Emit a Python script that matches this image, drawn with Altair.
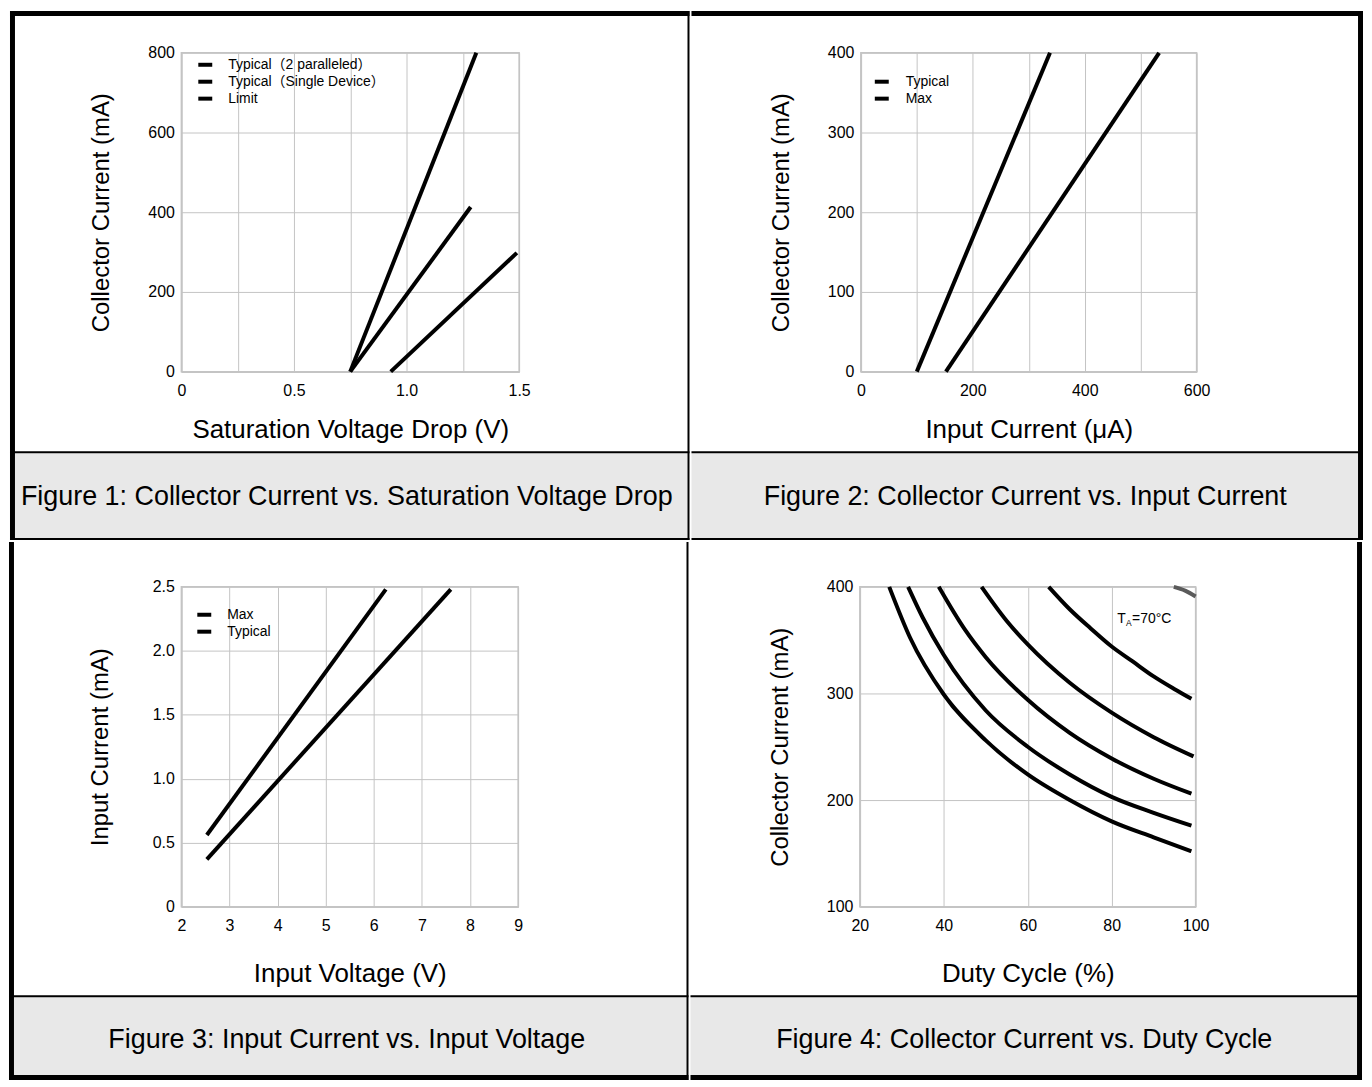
import altair as alt
import pandas as pd

FONT = "Liberation Sans, Arial, Noto Sans CJK SC, sans-serif"
CAPTION_SIZE = 27
BAND = "#e8e8e8"
GRID = "#c4c4c4"

# ---------------- Figure 1 ----------------
f1_series = ["Typical（2 paralleled）", "Typical（Single Device）", "Limit"]
f1_typ2_v = [0.75, 1.31]
f1_typ2_i = [0, 800]
f1_typ1_v = [0.75, 1.285]
f1_typ1_i = [0, 413]
f1_lim_v = [0.93, 1.49]
f1_lim_i = [0, 298]
f1_x_ticks = [0, 0.25, 0.5, 0.75, 1.0, 1.25, 1.5]
f1_x_labels = ["0", "", "0.5", "", "1.0", "", "1.5"]
f1_y_ticks = [0, 200, 400, 600, 800]
f1_y_labels = ["0", "200", "400", "600", "800"]

# ---------------- Figure 2 ----------------
f2_series = ["Typical", "\u00a0Max"]
f2_typ_in = [100, 338]
f2_typ_ic = [0, 400]
f2_max_in = [152, 533]
f2_max_ic = [0, 400]
f2_x_ticks = [0, 100, 200, 300, 400, 500, 600]
f2_x_labels = ["0", "", "200", "", "400", "", "600"]
f2_y_ticks = [0, 100, 200, 300, 400]
f2_y_labels = ["0", "100", "200", "300", "400"]

# ---------------- Figure 3 ----------------
f3_series = ["Max", "Typical"]
f3_max_v = [2.53, 6.25]
f3_max_i = [0.56, 2.48]
f3_typ_v = [2.53, 7.6]
f3_typ_i = [0.37, 2.48]
f3_x_ticks = [2, 3, 4, 5, 6, 7, 8, 9]
f3_x_labels = ["2", "3", "4", "5", "6", "7", "8", "9"]
f3_y_ticks = [0, 0.5, 1.0, 1.5, 2.0, 2.5]
f3_y_labels = ["0", "0.5", "1.0", "1.5", "2.0", "2.5"]

# ---------------- Figure 4 ----------------
f4_series = ["c1", "c2", "c3", "c4", "c5", "edge"]
f4_c1_d = [27, 32, 40, 50, 60, 70, 80, 90, 99]
f4_c1_i = [400, 352, 299, 256, 224, 200, 180, 165, 152]
f4_c2_d = [31.5, 35, 40, 50, 60, 70, 80, 90, 99]
f4_c2_i = [400, 371, 336, 284, 250, 224, 203, 188, 176]
f4_c3_d = [38.8, 45, 50, 60, 70, 80, 90, 99]
f4_c3_i = [400, 360, 334, 294, 263, 239, 220, 206]
f4_c4_d = [49, 55, 60, 70, 80, 90, 99.5]
f4_c4_i = [400, 368, 346, 310, 282, 259, 241]
f4_c5_d = [65, 70, 75, 80, 85, 90, 95, 99]
f4_c5_i = [400, 379, 361, 344, 330, 316, 304, 295]
f4_edge_d = [94.8, 97.5, 100]
f4_edge_i = [400, 396.5, 391]
f4_x_ticks = [20, 40, 60, 80, 100]
f4_x_labels = ["20", "40", "60", "80", "100"]
f4_y_ticks = [100, 200, 300, 400]
f4_y_labels = ["100", "200", "300", "400"]
f4_note_x = [81.3]
f4_note_y = [370]

captions = [
    "Figure 1: Collector Current vs. Saturation Voltage Drop",
    "Figure 2: Collector Current vs. Input Current",
    "Figure 3: Input Current vs. Input Voltage",
    "Figure 4: Collector Current vs. Duty Cycle",
]

DUMMY = pd.DataFrame({"d": [0]})


def frame(names, xs_list, ys_list):
    rows = []
    for name, xs, ys in zip(names, xs_list, ys_list):
        for i, (x, y) in enumerate(zip(xs, ys)):
            rows.append({"series": name, "x": x, "y": y, "i": i})
    return pd.DataFrame(rows)


def label_expr(values, labels):
    parts = [f"abs(datum.value - ({v})) < 1e-9 ? '{l}'" for v, l in zip(values, labels)]
    return " : ".join(parts) + " : ''"


def rect(x1, x2, y1, y2, color):
    return alt.Chart(DUMMY).mark_rect(color=color, strokeWidth=0).encode(
        x=alt.value(x1), x2=alt.value(x2), y=alt.value(y1), y2=alt.value(y2)
    )


def caption(text, cx, cy):
    return alt.Chart(DUMMY).mark_text(
        text=text, font=FONT, fontSize=CAPTION_SIZE, color="black",
        align="center", baseline="middle"
    ).encode(x=alt.value(cx), y=alt.value(cy))


def panel(df, series, colors, xdom, ydom, xt, xl, yt, yl, xtitle, ytitle,
          w, h, title_y, title_x, decor, cap_text, cap_xy, legend=None, extra=(),
          interp="linear"):
    if legend is None:
        leg = None
    else:
        lx, ly, lo = legend
        leg = alt.Legend(
            orient="none", legendX=lx, legendY=ly, title=None,
            symbolType="stroke", symbolSize=196, symbolStrokeWidth=4,
            labelFont=FONT, labelFontSize=14, labelColor="black",
            labelLimit=400, labelOffset=lo, rowPadding=0, padding=0,
        )
    lines = alt.Chart(df).mark_line(strokeWidth=4, interpolate=interp).encode(
        x=alt.X("x:Q", scale=alt.Scale(domain=xdom, nice=False, zero=False),
                axis=alt.Axis(values=xt, labelExpr=label_expr(xt, xl), title=xtitle,
                              titleY=title_y, titleBaseline="middle")),
        y=alt.Y("y:Q", scale=alt.Scale(domain=ydom, nice=False, zero=False),
                axis=alt.Axis(values=yt, labelExpr=label_expr(yt, yl), title=ytitle,
                              titleX=title_x, titleBaseline="middle")),
        color=alt.Color("series:N", scale=alt.Scale(domain=series, range=colors), legend=leg),
        order=alt.Order("i:Q"),
    )
    layers = [rect(*d) for d in decor] + [lines, caption(cap_text, *cap_xy)] + list(extra)
    return alt.layer(*layers).properties(width=w, height=h)


# ---- panel 1 (top-left), plot origin on screen (180, 50) ----
df1 = frame(f1_series, [f1_typ2_v, f1_typ1_v, f1_lim_v], [f1_typ2_i, f1_typ1_i, f1_lim_i])
decor1 = [
    (-167, 508, 402, 487, BAND),
    (-172, -167, -42, 489, "black"),
    (-172, 510, -42, -37, "black"),
    (508, 510, -42, 489, "black"),
    (-172, 510, 400, 402, "black"),
    (-172, 510, 487, 489, "black"),
]
p1 = panel(df1, f1_series, ["black"] * 3, [0, 1.5], [0, 800],
           f1_x_ticks, f1_x_labels, f1_y_ticks, f1_y_labels,
           "Saturation Voltage Drop (V)", "Collector Current (mA)",
           339, 320, 58, -80, decor1, captions[0], (166, 446), legend=(15, 3, 14))

# ---- panel 2 (top-right), plot origin on screen (860, 50) ----
df2 = frame(f2_series, [f2_typ_in, f2_max_in], [f2_typ_ic, f2_max_ic])
decor2 = [
    (-170, 499, 402, 487, BAND),
    (-170, 504, -42, -37, "black"),
    (499, 504, -42, 489, "black"),
    (-170, 504, 400, 402, "black"),
    (-170, 504, 487, 489, "black"),
]
p2 = panel(df2, f2_series, ["black"] * 2, [0, 600], [0, 400],
           f2_x_ticks, f2_x_labels, f2_y_ticks, f2_y_labels,
           "Input Current (μA)", "Collector Current (mA)",
           337, 320, 58, -80, decor2, captions[1], (165, 446), legend=(12, 20, 15))

# ---- panel 3 (bottom-left), plot origin on screen (181, 584) ----
df3 = frame(f3_series, [f3_max_v, f3_typ_v], [f3_max_i, f3_typ_i])
decor3 = [
    (-168, 507, 412, 490, BAND),
    (-173, -168, -45, 495, "black"),
    (507, 509, -45, 495, "black"),
    (-173, 509, 410, 412, "black"),
    (-173, 509, 490, 495, "black"),
]
p3 = panel(df3, f3_series, ["black"] * 2, [2, 9], [0, 2.5],
           f3_x_ticks, f3_x_labels, f3_y_ticks, f3_y_labels,
           "Input Voltage (V)", "Input Current (mA)",
           338, 321, 67, -81, decor3, captions[2], (166, 455), legend=(14, 19, 14))

# ---- panel 4 (bottom-right), plot origin on screen (860, 584) ----
df4 = frame(f4_series,
            [f4_c1_d, f4_c2_d, f4_c3_d, f4_c4_d, f4_c5_d, f4_edge_d],
            [f4_c1_i, f4_c2_i, f4_c3_i, f4_c4_i, f4_c5_i, f4_edge_i])
decor4 = [
    (-170, 499, 412, 490, BAND),
    (499, 504, -45, 495, "black"),
    (-170, 504, 410, 412, "black"),
    (-170, 504, 490, 495, "black"),
]
note = pd.DataFrame({"x": f4_note_x, "y": f4_note_y})
note_enc = dict(x=alt.X("x:Q"), y=alt.Y("y:Q"))
t1 = alt.Chart(note).mark_text(text="T", font=FONT, fontSize=14, align="left",
                               baseline="middle", color="black").encode(**note_enc)
t2 = alt.Chart(note).mark_text(text="A", font=FONT, fontSize=8.5, align="left",
                               baseline="middle", dx=9, dy=4, color="black").encode(**note_enc)
t3 = alt.Chart(note).mark_text(text="=70°C", font=FONT, fontSize=14, align="left",
                               baseline="middle", dx=15, color="black").encode(**note_enc)
p4 = panel(df4, f4_series, ["black"] * 5 + ["#5a5a5a"], [20, 100], [100, 400],
           f4_x_ticks, f4_x_labels, f4_y_ticks, f4_y_labels,
           "Duty Cycle (%)", "Collector Current (mA)",
           337, 321, 67, -80, decor4, captions[3], (165, 455), legend=None,
           extra=(t1, t2, t3), interp="monotone")

row1 = alt.hconcat(p1, p2, spacing=0).resolve_scale(color="independent")
row2 = alt.hconcat(p3, p4, spacing=0).resolve_scale(color="independent")

chart = (
    alt.vconcat(row1, row2, spacing=0)
    .resolve_scale(color="independent")
    .properties(padding=0, background="white")
    .configure_view(stroke=GRID, strokeWidth=1.5)
    .configure_axis(
        labelFont=FONT, labelFontSize=16, labelColor="black",
        titleFont=FONT, titleFontWeight="normal", titleColor="black",
        grid=True, gridColor=GRID, gridWidth=1,
        domainColor=GRID, domainWidth=1.5,
        ticks=False, tickSize=0, labelFlush=False, labelOverlap=False,
    )
    .configure_axisX(labelPadding=11, titleFontSize=26)
    .configure_axisY(labelPadding=7, titleFontSize=24)
)

chart.save("out.html", embed_options={"renderer": "svg", "actions": False})
